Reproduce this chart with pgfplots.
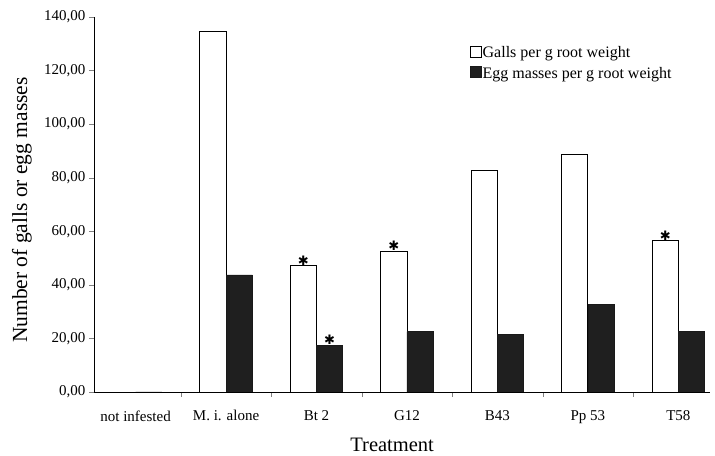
\documentclass[border=0pt]{standalone}
\usepackage{pgfplots}
\pgfplotsset{compat=1.18}
\usepackage{fontspec}
\setmainfont{Liberation Serif}
\newfontfamily\dejavu{DejaVu Sans}
\begin{document}
\begin{tikzpicture}
\begin{axis}[
  scale only axis,
  width=616pt, height=375pt,
  xmin=-0.46, xmax=6.35,
  ymin=0, ymax=140,
  axis x line*=bottom,
  axis y line*=left,
  axis line style={black, line width=0.8pt},
  tick align=outside,
  major tick length=5pt,
  ytick={0,20,...,140},
  /pgf/number format/.cd, use comma, fixed, fixed zerofill, precision=2, assume math mode=true,
  /pgfplots/.cd,
  yticklabel style={font=\fontsize{15}{15}\selectfont},
  xtick={0.5,1.5,...,5.5},
  xticklabels={},
  extra x ticks={0,1,2,3,4,5,6},
  extra x tick labels={not infested, M. i. alone, Bt 2, G12, B43, Pp 53, T58},
  extra x tick style={major tick length=0pt, xticklabel style={font=\fontsize{15}{15}\selectfont, yshift=-15pt}},
  ylabel={Number of galls or egg masses},
  ylabel style={font=\fontsize{21.5}{21.5}\selectfont, at={(rel axis cs:0,0.485)}, yshift=72pt, anchor=center},
  xlabel={Treatment},
  xlabel style={font=\fontsize{20.5}{20.5}\selectfont, at={(rel axis cs:0.484,0)}, yshift=-53pt, anchor=center},
  legend style={at={(rel axis cs:0.605,0.93)}, anchor=north west, draw=none, fill=none,
    font=\fontsize{16}{16}\selectfont, row sep=6pt,
    nodes={inner sep=1pt}},
  legend cell align=left,
  legend image code/.code={\draw[#1, line width=0.8pt] (0pt,-4.5pt) rectangle (11pt,6.5pt);},
]
\addplot[ybar, bar width=0.29, bar shift=-0.145, draw=black, fill=white, line width=0.9pt]
  coordinates {(0,0) (1,134.6) (2,47.1) (3,52.6) (4,82.6) (5,88.8) (6,56.4)};
\addlegendentry{Galls per g root weight}
\addplot[ybar, bar width=0.29, bar shift=0.145, draw=black!90, fill=black!88, line width=0.6pt]
  coordinates {(0,0) (1,43.7) (2,17.5) (3,22.5) (4,21.6) (5,32.8) (6,22.5)};
\addlegendentry{Egg masses per g root weight}
% significance stars
\addplot[ybar, bar width=0.29, bar shift=-0.145, draw=none, fill=none, forget plot,
  nodes near coords={\dejavu ✱}, point meta=y,
  every node near coord/.append style={font=\fontsize{13}{13}\selectfont, anchor=south, inner sep=0.5pt, xshift=-13.1pt, black}]
  coordinates {(2,47.1) (3,52.6) (6,56.4)};
\addplot[ybar, bar width=0.29, bar shift=0.145, draw=none, fill=none, forget plot,
  nodes near coords={\dejavu ✱}, point meta=y,
  every node near coord/.append style={font=\fontsize{13}{13}\selectfont, anchor=south, inner sep=0.5pt, xshift=13.1pt, black}]
  coordinates {(2,17.5)};
\end{axis}
\path ([shift={(-94pt,-62pt)}]current axis.south west) rectangle ([shift={(5pt,17pt)}]current axis.north east);
\end{tikzpicture}
\end{document}
